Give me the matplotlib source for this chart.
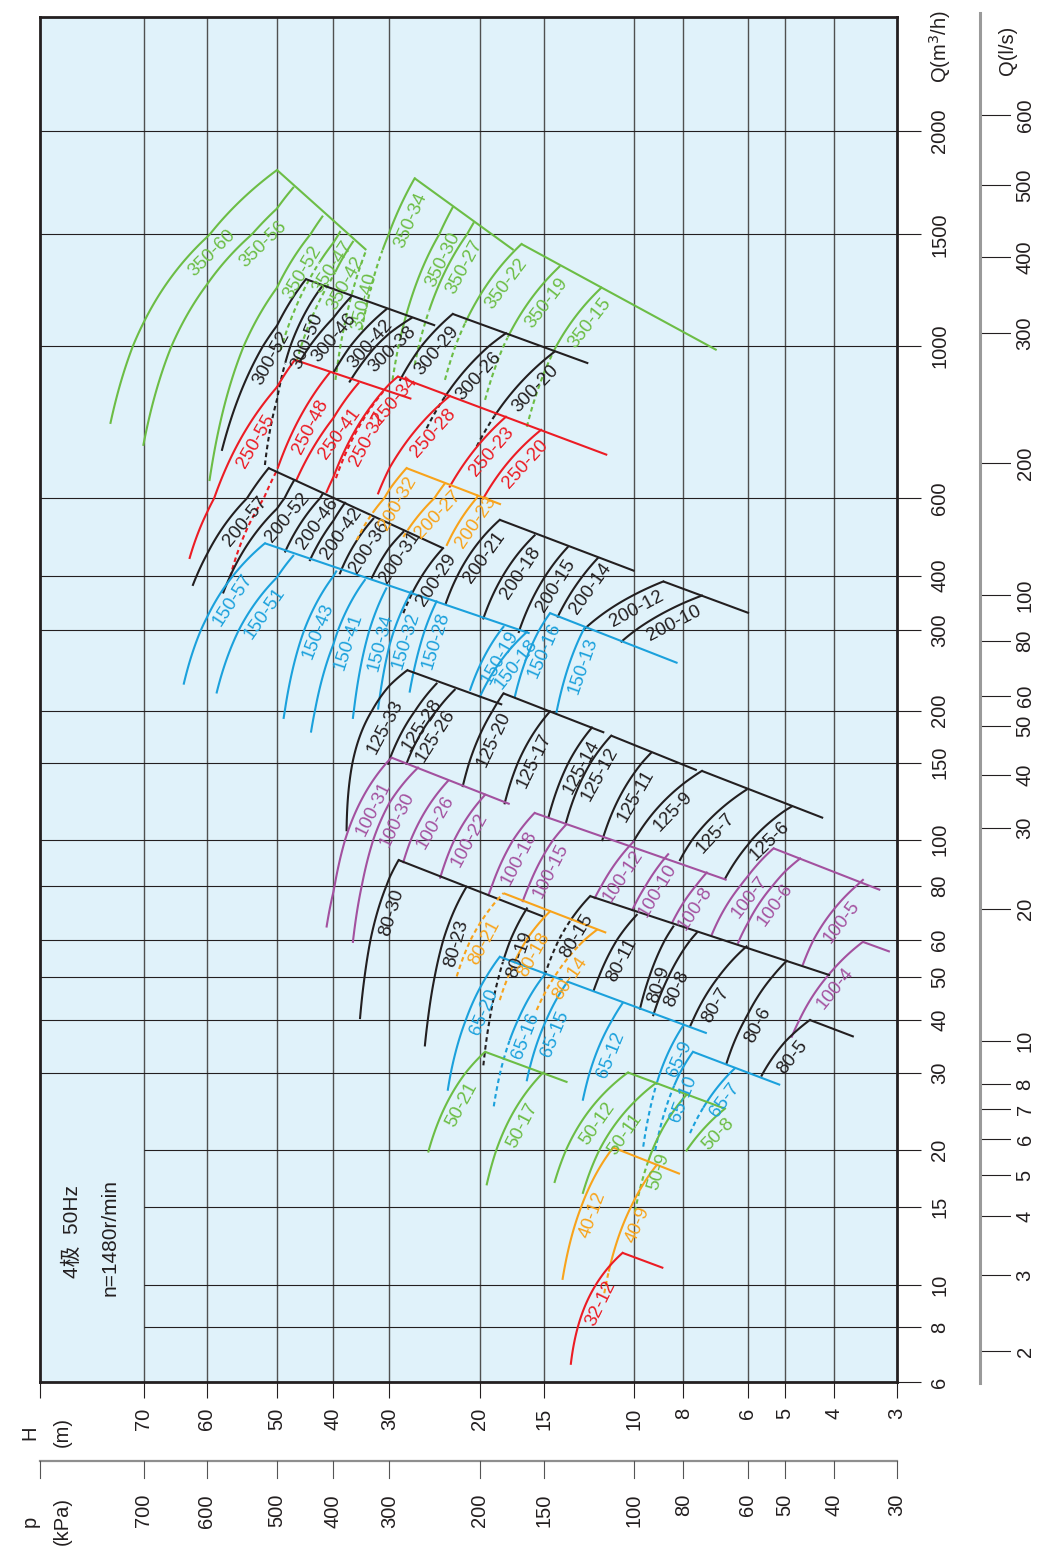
import numpy as np
import matplotlib
matplotlib.use("Agg")
import matplotlib.pyplot as plt
from matplotlib import transforms
from matplotlib.ticker import NullLocator, FixedLocator

plt.rcParams["font.family"] = ["Liberation Sans", "Noto Sans CJK SC", "DejaVu Sans"]
plt.rcParams["axes.unicode_minus"] = False

INF = float("inf")

# ---------------------------------------------------------------- tick values
H_TICKS = [3, 4, 5, 6, 8, 10, 15, 20, 30, 40, 50, 60, 70]          # head, m
P_TICKS = [30, 40, 50, 60, 80, 100, 150, 200, 300, 400, 500, 600, 700]  # kPa
Q_TICKS = [6, 8, 10, 15, 20, 30, 40, 50, 60, 80, 100, 150, 200, 300, 400,
           600, 1000, 1500, 2000]                                     # m3/h
LS_TICKS = [2, 3, 4, 5, 6, 7, 8, 10, 20, 30, 40, 50, 60, 80, 100, 200, 300,
            400, 500, 600]                                            # l/s

# ---------------------------------------------------------------- pump curves
# each curve: (H, Q) at low-flow end, middle, high-flow end; dash: Q below which
# the curve is drawn dashed (INF = dashed over its whole length)

# 350 series
g350_names = ["350-60", "350-56", "350-52", "350-47", "350-42", "350-40",
              "350-34", "350-30", "350-27", "350-22", "350-19", "350-15"]
g350_bottom = [(75.9, 773), (70.1, 718), (59.6, 638), (49.3, 987), (46.25, 950),
               (39.6, 893), (34.6, 1061), (29.6, 893), (26.8, 939), (23.4, 893),
               (19.55, 835), (16.2, 763)]
g350_mid = [(65.5, 1284), (60.9, 1213), (52.6, 1107), (44.5, 1250), (41.86, 1200),
            (37.0, 1155), (31.2, 1407), (26.6, 1255), (24.1, 1243), (20.4, 1170),
            (17.1, 1084), (14.2, 1000)]
g350_top = [(50.0, 1794), (46.9, 1708), (41.8, 1576), (38.7, 1510), (36.2, 1460),
            (33.8, 1417), (26.8, 1753), (22.6, 1617), (20.6, 1547), (16.6, 1448),
            (14.0, 1334), (11.6, 1236)]
g350_dash = [None, None, None, 1357, 1308, INF, 1417, 1023, 1140, 1088, 1035, 987]
g350_edges = [[(50.0, 1794), (33.8, 1417)], [(26.8, 1753), (17.2, 1417)],
              [(16.6, 1448), (6.9, 987)]]

# 300 series
k300_names = ["300-52", "300-50", "300-46", "300-42", "300-38", "300-29",
              "300-26", "300-20"]
k300_bottom = [(57.7, 706), (51.6, 671), (45.7, 949), (40.0, 915), (36.8, 888),
               (28.6, 893), (25.4, 759), (20.3, 714)]
k300_mid = [(52.1, 990), (48.2, 957), (41.3, 1074), (35.5, 1029), (32.3, 997),
            (25.8, 1008), (21.9, 903), (17.5, 848)]
k300_top = [(44.6, 1275), (41.8, 1244), (36.4, 1200), (30.5, 1143), (27.2, 1107),
            (22.6, 1124), (17.8, 1048), (14.3, 982)]
k300_dash = [None, 949, None, None, None, None, 844, 793]
k300_edges = [[(44.6, 1275), (24.45, 1078)], [(22.6, 1124), (12.3, 944)]]

# 250 series
r250_names = ["250-55", "250-48", "250-41", "250-37", "250-34", "250-28",
              "250-23", "250-20"]
r250_bottom = [(62.6, 439), (56.5, 397), (46.3, 638), (39.5, 642), (41.1, 613),
               (31.8, 610), (22.9, 624), (19.7, 600)]
r250_mid = [(56.1, 697), (50.1, 656), (41.2, 760), (35.6, 750), (35.6, 758),
            (27.7, 728), (20.5, 706), (17.6, 678)]
r250_top = [(46.6, 955), (40.6, 915), (35.2, 883), (31.0, 858), (28.9, 903),
            (22.9, 846), (17.8, 789), (15.2, 755)]
r250_dash = [None, 664, None, INF, None, None, None, None]
r250_edges = [[(46.6, 955), (27.2, 838)], [(28.9, 903), (11.3, 694)]]

# 200 series (black)
k200_names = ["200-57", "200-52", "200-46", "200-42", "200-36", "200-31",
              "200-29", "200-21", "200-18", "200-15", "200-14", "200-12", "200-10"]
k200_bottom = [(62.1, 381), (57.5, 366), (48.4, 454), (43.9, 434), (38.7, 405),
               (32.9, 394), (28.2, 328), (23.3, 346), (19.7, 319), (16.8, 297),
               (14.1, 322), (12.5, 302), (10.6, 283)]
k200_mid = [(57.3, 522), (52.8, 502), (45.3, 532), (41.0, 510), (35.9, 472),
            (30.7, 448), (26.1, 395), (21.1, 441), (17.9, 406), (15.3, 380),
            (13.0, 380), (10.75, 345), (9.08, 321)]
k200_top = [(51.1, 664), (46.7, 638), (41.7, 610), (37.7, 586), (32.6, 539),
            (28.2, 503), (23.6, 462), (18.3, 536), (15.65, 494), (13.5, 464),
            (11.8, 438), (8.77, 388), (7.37, 360)]
k200_dash = [None, None, None, None, None, None, 363, None, None, None, None,
             None, None]
k200_edges = [[(51.1, 664), (23.6, 462)], [(18.3, 536), (10.0, 410)],
              [(8.77, 388), (5.97, 328)]]

# 200 series (orange)
o200_names = ["200-32", "200-27", "200-23"]
o200_bottom = [(35.5, 482), (28.2, 490), (23.2, 470)]
o200_mid = [(32.0, 573), (25.95, 560), (21.8, 537)]
o200_top = [(27.8, 664), (23.4, 631), (20.2, 605)]
o200_dash = [564, 515, None]
o200_edges = [[(27.8, 664), (18.2, 581)]]

# 150 series
b150_names = ["150-57", "150-51", "150-43", "150-41", "150-34", "150-32",
              "150-28", "150-19", "150-18", "150-16", "150-13"]
b150_bottom = [(63.5, 229), (58.5, 219), (48.7, 192), (43.7, 178), (36.2, 192),
               (31.8, 202), (27.4, 220), (20.9, 222), (20.0, 214.5), (17.1, 214.5),
               (14.2, 197)]
b150_mid = [(58.6, 351), (53.7, 331), (44.9, 300), (39.8, 284), (33.8, 283),
            (29.8, 285), (26.0, 284), (19.6, 263), (18.25, 256), (16.0, 271),
            (13.44, 250)]
b150_top = [(51.6, 474), (46.9, 444), (39.45, 409), (34.05, 391), (30.5, 374),
            (27.2, 368), (24.3, 349), (18.0, 305), (16.2, 297), (14.6, 328),
            (12.5, 304)]
b150_dash = [None] * 11
b150_edges = [[(51.6, 474), (16.0, 295)], [(14.6, 328), (8.22, 254)]]

# 125 series
k125_names = ["125-33", "125-28", "125-26", "125-20", "125-17", "125-14",
              "125-12", "125-11", "125-9", "125-7", "125-6"]
k125_bottom = [(37.4, 105), (30.2, 149), (27.8, 149), (21.6, 132.5), (17.9, 121),
               (14.7, 112.5), (13.6, 109), (11.55, 99.7), (10.05, 98.9),
               (8.13, 90.5), (6.65, 82.6)]
k125_mid = [(34.9, 174), (27.56, 189), (25.4, 185.5), (20.0, 175), (16.45, 160),
            (13.55, 147), (12.5, 141.5), (10.54, 129), (8.83, 121), (7.18, 110),
            (5.83, 101)]
k125_top = [(27.7, 245), (24.3, 229), (22.4, 222), (18.0, 218), (14.6, 199),
            (12.1, 182), (11.1, 174), (9.28, 158), (7.37, 143.5), (6.04, 130),
            (4.85, 119)]
k125_dash = [None] * 11
k125_edges = [[(27.7, 245), (18.1, 206)], [(18.0, 218), (11.45, 177)],
              [(11.1, 174), (7.54, 144)], [(7.37, 143.5), (4.21, 112)]]

# 100 series
p100_names = ["100-31", "100-30", "100-26", "100-22", "100-18", "100-15",
              "100-12", "100-10", "100-8", "100-7", "100-6", "100-5", "100-4"]
p100_bottom = [(41.1, 64.3), (36.2, 59.3), (28.2, 89.6), (23.9, 83.1),
               (19.25, 76.0), (16.5, 73.6), (11.95, 74.8), (10.1, 70.2),
               (8.43, 65.5), (7.05, 61.6), (6.27, 59.0), (4.61, 53.1), (4.85, 36.5)]
p100_mid = [(36.57, 109), (32.3, 102.6), (25.9, 113), (21.95, 104.8),
            (17.63, 95.5), (15.19, 90.8), (11.07, 86.85), (9.39, 81.65),
            (7.86, 75.35), (6.27, 78.7), (5.56, 75.1), (4.12, 67.65), (4.26, 47.9)]
p100_top = [(29.7, 154), (26.4, 146), (23.1, 136), (19.55, 126.5), (15.65, 115),
            (13.6, 108), (10.05, 98.9), (8.58, 93.1), (7.21, 85.2), (5.29, 95.8),
            (4.67, 91.2), (3.51, 82.2), (3.51, 59.3)]
p100_dash = [None] * 13
p100_edges = [[(29.7, 154), (17.5, 120.5)], [(15.65, 115), (6.60, 82.2)],
              [(5.29, 95.8), (3.24, 78.1)], [(3.51, 59.3), (3.10, 56.5)]]

# 80 series (black)
k80_names = ["80-30", "80-23", "80-19", "80-15", "80-11", "80-9", "80-8",
             "80-7", "80-6", "80-5"]
k80_bottom = [(34.9, 40.4), (25.6, 34.8), (19.7, 31.2), (14.95, 50.3), (12.0, 46.6),
              (9.75, 42.4), (9.18, 41.0), (7.77, 38.6), (6.60, 31.6), (5.61, 29.5)]
k80_mid = [(32.43, 65.45), (23.85, 57.1), (18.29, 51.0), (13.71, 62.95),
           (11.05, 57.5), (9.14, 53.35), (8.44, 51.6), (6.99, 48.3), (5.89, 42.8),
           (5.08, 34.75)]
k80_top = [(28.8, 90.5), (21.25, 79.4), (16.2, 70.8), (12.2, 75.6), (9.9, 68.4),
           (8.38, 64.3), (7.54, 62.2), (6.04, 58.0), (4.96, 54.0), (4.47, 40.0)]
k80_dash = [None, None, 54.2, 66.6, None, None, None, None, None, None]
k80_edges = [[(28.8, 90.5), (15.05, 67.8)], [(12.2, 75.6), (4.08, 50.3)],
             [(4.47, 40.0), (3.66, 36.5)]]

# 80 series (orange)
o80_names = ["80-21", "80-18", "80-14"]
o80_bottom = [(22.2, 50.0), (18.3, 44.3), (15.5, 42.1)]
o80_mid = [(20.32, 63.4), (16.66, 57.0), (13.86, 52.6)]
o80_top = [(18.0, 76.8), (14.6, 69.7), (11.85, 63.1)]
o80_dash = [INF, 54.2, 58.4]
o80_edges = [[(18.0, 76.8), (11.35, 62.2)]]

# 65 series
b65_names = ["65-20", "65-16", "65-15", "65-12", "65-9", "65-10", "65-7"]
b65_bottom = [(23.1, 27.4), (18.8, 25.1), (16.2, 28.8), (12.6, 26.0), (9.61, 20.3),
              (9.1, 19.9), (7.77, 21.8)]
b65_mid = [(21.1, 41.25), (17.22, 37.7), (15.02, 38.75), (11.7, 34.8), (8.93, 29.6),
           (8.48, 26.75), (7.12, 26.25)]
b65_top = [(18.3, 55.1), (15.0, 50.3), (13.5, 48.7), (10.55, 43.6), (8.0, 38.9),
           (7.67, 33.6), (6.36, 30.7)]
b65_dash = [None, 35.8, None, None, 28.5, 28.1, 25.0]
b65_edges = [[(18.3, 55.1), (13.8, 49.1)], [(13.5, 48.7), (7.21, 37.2)],
             [(7.67, 33.6), (5.12, 28.1)]]

# 50 series
g50_names = ["50-21", "50-17", "50-12", "50-11", "50-9", "50-8"]
g50_bottom = [(25.2, 19.8), (19.4, 16.8), (14.3, 17.0), (12.6, 16.1), (9.98, 14.65),
              (7.89, 19.9)]
g50_mid = [(22.74, 26.7), (17.53, 23.4), (12.58, 23.5), (11.09, 22.2), (9.09, 20.7),
           (7.30, 22.35)]
g50_top = [(19.55, 33.6), (15.05, 30.0), (10.3, 30.0), (9.1, 28.3), (7.89, 26.7),
           (6.65, 24.8)]
g50_dash = [None, None, None, None, 18.5, None]
g50_edges = [[(19.55, 33.6), (13.5, 28.5)], [(10.3, 30.0), (6.65, 24.8)]]

# 40 series
o40_names = ["40-12", "40-9"]
o40_bottom = [(13.8, 10.3), (11.45, 9.55)]
o40_mid = [(12.63, 15.25), (10.44, 14.0)]
o40_top = [(11.0, 20.2), (9.04, 18.5)]
o40_dash = [None, 10.7]
o40_edges = [[(11.0, 20.2), (8.13, 17.7)]]

# 32 series
r32_names = ["32-12"]
r32_bottom = [(13.3, 6.6)]
r32_mid = [(12.35, 9.19)]
r32_top = [(10.55, 11.8)]
r32_dash = [None]
r32_edges = [[(10.55, 11.8), (8.77, 10.9)]]

# where each model name sits along its curve: (fraction of curve length, gap in px)
LABEL_POS = {
    "350-60": (0.66, 15), "350-56": (0.8, 15), "350-52": (0.8, 15),
    "350-47": (0.75, 14), "350-42": (0.7, 14), "350-40": (0.62, 14),
    "350-34": (0.75, 15), "350-30": (0.72, 15), "350-27": (0.72, 15),
    "350-22": (0.74, 15), "350-19": (0.76, 15), "350-15": (0.78, 15),
    "300-52": (0.55, 13), "300-50": (0.7, 14), "300-46": (0.48, 14),
    "300-42": (0.55, 14), "300-29": (0.55, 15), "300-20": (0.68, 15),
    "250-48": (0.75, 14), "250-41": (0.55, 14), "250-37": (0.5, 14),
    "250-34": (0.85, 15), "250-28": (0.68, 15),
    "200-52": (0.75, 14),
    "80-21": (0.45, 14), "80-18": (0.55, 14), "80-14": (0.45, 14),
    "80-30": (0.68, 14), "80-23": (0.65, 14), "80-19": (0.72, 14),
    "80-15": (0.55, 14), "80-11": (0.45, 14), "80-9": (0.32, 12),
    "80-8": (0.36, 13), "80-7": (0.32, 14), "80-6": (0.4, 14), "80-5": (0.45, 16),
    "65-16": (0.55, 14), "65-15": (0.5, 14), "65-12": (0.5, 14), "65-9": (0.75, 13),
    "65-10": (0.55, 14), "65-7": (0.6, 14),
    "50-21": (0.5, 14), "50-17": (0.55, 14), "50-12": (0.55, 14),
    "50-11": (0.55, 14), "50-9": (0.35, 13), "50-8": (0.6, 14),
    "40-12": (0.5, 14), "40-9": (0.55, 14), "32-12": (0.55, 14),
    "100-31": (0.7, 15), "100-30": (0.7, 15), "100-26": (0.55, 14),
    "100-22": (0.5, 14), "100-18": (0.5, 14), "100-15": (0.45, 14),
    "100-12": (0.5, 13), "100-10": (0.45, 13), "100-8": (0.4, 13),
    "100-7": (0.5, 14), "100-6": (0.5, 14), "100-5": (0.55, 14), "100-4": (0.55, 14),
    "125-33": (0.65, 20), "125-28": (0.55, 14), "125-26": (0.45, 14),
    "125-20": (0.55, 14), "125-17": (0.5, 14), "125-12": (0.6, 14),
    "125-11": (0.55, 14), "125-9": (0.5, 14), "125-7": (0.45, 14), "125-6": (0.6, 14),
}

# ---------------------------------------------------------------- styling
INK = "#231f20"
BG = "#e0f2fa"
GREEN = "#6cbd45"
RED = "#ec1c24"
BLUE = "#1ba1dc"
PURPLE = "#a3519f"
ORANGE = "#f8a31b"
LW = 1.5
FS_CURVE = 13.5
FS_AXIS = 14.5

# printed scale geometry (pixel columns / rows of the sheet)
FIG_W, FIG_H = 1040, 1553
L, T, R, B = 40, 17, 897, 1382
H_SCALE_VAL = [1, 3, 4, 5, 6, 8, 10, 15, 20, 30, 40, 50, 60, 70, 90, 300]
H_SCALE_PX = [1142, 897, 834.5, 785, 748, 683.5, 634.5, 544, 480, 389.5, 333.5,
              277, 207, 144, 40, -483]
Q_SCALE_VAL = [1, 6, 8, 10, 15, 20, 30, 40, 50, 60, 80, 100, 150, 200, 300, 400,
               600, 1000, 1500, 2000, 2750, 20000]
Q_SCALE_PX = [1724, 1382, 1327, 1284.5, 1207, 1149.5, 1072.5, 1020, 976.5, 939.5,
              885.5, 839.5, 762.5, 710.5, 630, 575.7, 498.3, 346.2, 234.3, 131,
              17, -695]
LS_SCALE_VAL = [1, 2, 3, 4, 5, 6, 7, 8, 10, 20, 30, 40, 50, 60, 80, 100, 200, 300,
                400, 500, 600, 3000]
LS_SCALE_PX = [1483, 1351, 1275, 1216, 1175, 1139, 1109, 1084, 1041, 909, 828, 775,
               726, 696, 641, 595, 463, 333, 257, 185, 115, -450]


def log_scale(vals, px):
    lv = np.log10(np.asarray(vals, float))
    u = -np.asarray(px, float)

    def fwd(v):
        v = np.asarray(v, float)
        v = np.where(v > 0, v, 1e-12)
        return np.interp(np.log10(v), lv, u)

    def inv(w):
        return 10 ** np.interp(np.asarray(w, float), u, lv)

    return fwd, inv


def fy_(py):
    return 1 - py / FIG_H


def fx_(px):
    return px / FIG_W


fig = plt.figure(figsize=(FIG_W / 100, FIG_H / 100), dpi=100)
fig.patch.set_facecolor("white")
ax = fig.add_axes([L / FIG_W, 1 - B / FIG_H, (R - L) / FIG_W, (B - T) / FIG_H])
sx = log_scale(H_SCALE_VAL, H_SCALE_PX)
sy = log_scale(Q_SCALE_VAL, Q_SCALE_PX)
ax.set_xscale("function", functions=sx)
ax.set_yscale("function", functions=sy)
h_left, h_right = float(sx[1](-L)), float(sx[1](-R))
q_bot, q_top = float(sy[1](-B)), float(sy[1](-T))
ax.set_xlim(h_left, h_right)
ax.set_ylim(q_bot, q_top)
ax.set_facecolor(BG)
for sp in ax.spines.values():
    sp.set_linewidth(2.0)
    sp.set_color(INK)
    sp.set_zorder(6)

ax.xaxis.set_major_locator(FixedLocator([h_left] + H_TICKS))
ax.xaxis.set_minor_locator(NullLocator())
ax.yaxis.set_major_locator(FixedLocator(Q_TICKS))
ax.yaxis.set_minor_locator(NullLocator())
ax.tick_params(axis="x", bottom=True, top=False, direction="out", length=11.5,
               width=0.8, color=INK, labelbottom=False)
ax.tick_params(axis="y", left=False, right=True, direction="out", length=17.3,
               width=0.8, color=INK, labelleft=False, labelright=False)

# grid
for h in H_TICKS[1:]:
    ax.axvline(h, color="#505050", lw=1.0, zorder=1)
for q in Q_TICKS[1:]:
    if q <= 20:
        ax.hlines(q, 70, h_right, color=INK, lw=0.8, zorder=1)
    else:
        ax.axhline(q, color=INK, lw=0.8, zorder=1)


# ---------------------------------------------------------------- curves
def arc_points(pb, pm, pt, n=90):
    qv = np.array([pb[1], pm[1], pt[1]], float)
    hv = np.array([pb[0], pm[0], pt[0]], float)
    coef = np.polyfit(qv, hv, 2)
    qs = np.geomspace(qv[0], qv[2], n)
    return np.polyval(coef, qs), qs


def put_label(hs, qs, text, color, frac=0.6, off=14):
    pts = ax.transData.transform(np.column_stack([hs, qs]))
    seg = np.hypot(*np.diff(pts, axis=0).T)
    s = np.concatenate([[0.0], np.cumsum(seg)])
    t = frac * s[-1]
    x = np.interp(t, s, pts[:, 0])
    y = np.interp(t, s, pts[:, 1])
    j = int(np.clip(np.searchsorted(s, t), 1, len(s) - 1))
    dx, dy = pts[j] - pts[j - 1]
    ang = np.degrees(np.arctan2(dy, dx))
    a = np.radians(ang)
    px, py = x + np.sin(a) * off, y - np.cos(a) * off
    hd, qd = ax.transData.inverted().transform((px, py))
    ax.text(hd, qd, text, rotation=ang, rotation_mode="anchor", ha="center",
            va="center", color=color, fontsize=FS_CURVE, zorder=5)


def draw_series(color, names, bottom, mid, top, dash, edges):
    for e in edges:
        hh, qq = zip(*e)
        ax.plot(hh, qq, color=color, lw=LW, zorder=3, solid_capstyle="butt")
    for i, name in enumerate(names):
        hs, qs = arc_points(bottom[i], mid[i], top[i])
        d = dash[i]
        if d is None:
            ax.plot(hs, qs, color=color, lw=LW, zorder=3)
        else:
            solid = qs >= d
            dashed = qs <= d
            if solid.sum() > 1:
                ax.plot(hs[solid], qs[solid], color=color, lw=LW, zorder=3)
            if dashed.sum() > 1:
                ax.plot(hs[dashed], qs[dashed], color=color, lw=LW, zorder=3,
                        linestyle=(0, (2.2, 1.6)))
        frac, off = LABEL_POS.get(name, (0.6, 14))
        put_label(hs, qs, name, color, frac, off)


draw_series(GREEN, g350_names, g350_bottom, g350_mid, g350_top, g350_dash, g350_edges)
draw_series(INK, k300_names, k300_bottom, k300_mid, k300_top, k300_dash, k300_edges)
draw_series(RED, r250_names, r250_bottom, r250_mid, r250_top, r250_dash, r250_edges)
draw_series(INK, k200_names, k200_bottom, k200_mid, k200_top, k200_dash, k200_edges)
draw_series(ORANGE, o200_names, o200_bottom, o200_mid, o200_top, o200_dash, o200_edges)
draw_series(BLUE, b150_names, b150_bottom, b150_mid, b150_top, b150_dash, b150_edges)
draw_series(INK, k125_names, k125_bottom, k125_mid, k125_top, k125_dash, k125_edges)
draw_series(PURPLE, p100_names, p100_bottom, p100_mid, p100_top, p100_dash, p100_edges)
draw_series(INK, k80_names, k80_bottom, k80_mid, k80_top, k80_dash, k80_edges)
draw_series(ORANGE, o80_names, o80_bottom, o80_mid, o80_top, o80_dash, o80_edges)
draw_series(BLUE, b65_names, b65_bottom, b65_mid, b65_top, b65_dash, b65_edges)
draw_series(GREEN, g50_names, g50_bottom, g50_mid, g50_top, g50_dash, g50_edges)
draw_series(ORANGE, o40_names, o40_bottom, o40_mid, o40_top, o40_dash, o40_edges)
draw_series(RED, r32_names, r32_bottom, r32_mid, r32_top, r32_dash, r32_edges)

# ---------------------------------------------------------------- scales & labels
bx = transforms.blended_transform_factory(ax.transData, fig.transFigure)
by = transforms.blended_transform_factory(fig.transFigure, ax.transData)

# head scale labels
for h in H_TICKS:
    ax.text(h, fy_(1408), str(h), transform=bx, rotation=90, ha="center",
            va="top", fontsize=FS_AXIS, color=INK)
fig.text(fx_(30), fy_(1433), "H", rotation=90, ha="center", va="center",
         fontsize=FS_AXIS, color=INK)
fig.text(fx_(62), fy_(1432), "(m)", rotation=90, ha="center", va="center",
         fontsize=FS_AXIS, color=INK)

# pressure scale (p = 10 kPa per metre of head)
ax.plot([h_left, h_right], [fy_(1461), fy_(1461)], transform=bx, color="#8e8e8e",
        lw=1.6, clip_on=False)
for h in [h_left] + [p / 10 for p in P_TICKS]:
    ax.plot([h, h], [fy_(1461), fy_(1478)], transform=bx, color="#555555", lw=0.8,
            clip_on=False)
for p in P_TICKS:
    ax.text(p / 10, fy_(1494), str(p), transform=bx, rotation=90, ha="center",
            va="top", fontsize=FS_AXIS, color=INK)
fig.text(fx_(30), fy_(1521), "p", rotation=90, ha="center", va="center",
         fontsize=FS_AXIS, color=INK)
fig.text(fx_(62), fy_(1521), "(kPa)", rotation=90, ha="center", va="center",
         fontsize=FS_AXIS, color=INK)

# flow scale, m3/h
for q in Q_TICKS:
    ax.text(fx_(940), q, str(q), transform=by, rotation=90, ha="center",
            va="center", fontsize=FS_AXIS, color=INK)
fig.text(fx_(940), fy_(47), r"Q(m$^3$/h)", rotation=90, ha="center", va="center",
         fontsize=FS_AXIS, color=INK)

# flow scale, l/s
ax_ls = fig.add_axes([980 / FIG_W, 1 - 1383 / FIG_H, 31 / FIG_W, (1383 - 13) / FIG_H])
sl = log_scale(LS_SCALE_VAL, LS_SCALE_PX)
ax_ls.set_yscale("function", functions=sl)
ax_ls.set_ylim(float(sl[1](-1383)), float(sl[1](-13)))
ax_ls.set_xlim(0, 1)
ax_ls.patch.set_visible(False)
for k in ("top", "right", "bottom"):
    ax_ls.spines[k].set_visible(False)
ax_ls.spines["left"].set_color("#9a9a9a")
ax_ls.spines["left"].set_linewidth(2.2)
ax_ls.set_xticks([])
ax_ls.yaxis.set_major_locator(FixedLocator([]))
ax_ls.yaxis.set_minor_locator(NullLocator())
ax_ls.hlines(LS_TICKS, 0, 1, color=INK, lw=0.8)
bls = transforms.blended_transform_factory(fig.transFigure, ax_ls.transData)
for v in LS_TICKS:
    ax_ls.text(fx_(1025), v, str(v), transform=bls, rotation=90, ha="center",
               va="center", fontsize=FS_AXIS, color=INK)
fig.text(fx_(1008), fy_(50), "Q(l/s)", rotation=90, ha="center", va="center",
         fontsize=FS_AXIS, color=INK)

# operating note
fig.text(fx_(72), fy_(1232), "4极  50Hz", rotation=90, ha="center", va="center",
         fontsize=15, color=INK)
fig.text(fx_(110), fy_(1237), "n=1480r/min", rotation=90, ha="center",
         va="center", fontsize=15, color=INK)

fig.savefig("out.png", dpi=100, facecolor="white")
